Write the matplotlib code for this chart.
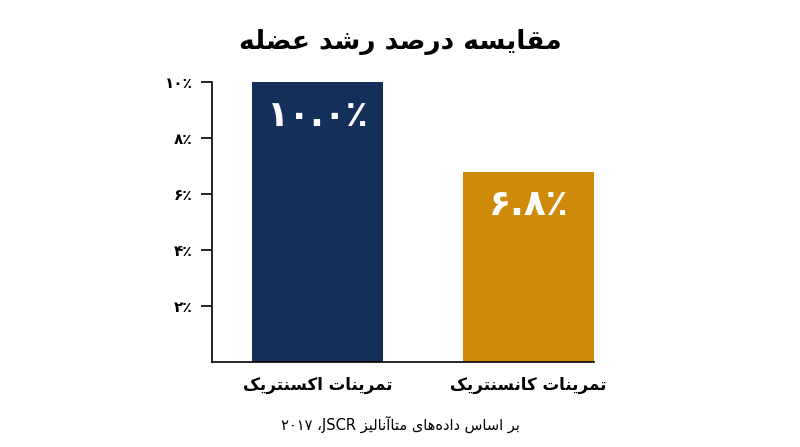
import matplotlib
matplotlib.use("Agg")
import matplotlib.pyplot as plt
import re

title = "مقایسه درصد رشد عضله"
categories = ["تمرینات اکسنتریک", "تمرینات کانسنتریک"]
values = [10.0, 6.8]
value_labels = ["۱۰.۰٪", "۶.۸٪"]
yticks = [2, 4, 6, 8, 10]
ytick_labels = ["۲٪", "۴٪", "۶٪", "۸٪", "۱۰٪"]
footer = "بر اساس داده‌های متاآنالیز JSCR، ۲۰۱۷"
colors = ["#14305a", "#d08a0a"]

FORMS = {
    '\u0627': (0xFE8D, 0xFE8E, None, None), '\u0622': (0xFE81, 0xFE82, None, None),
    '\u062F': (0xFEA9, 0xFEAA, None, None), '\u0631': (0xFEAD, 0xFEAE, None, None),
    '\u0632': (0xFEAF, 0xFEB0, None, None),
    '\u0628': (0xFE8F, 0xFE90, 0xFE91, 0xFE92), '\u062A': (0xFE95, 0xFE96, 0xFE97, 0xFE98),
    '\u0633': (0xFEB1, 0xFEB2, 0xFEB3, 0xFEB4), '\u0634': (0xFEB5, 0xFEB6, 0xFEB7, 0xFEB8),
    '\u0635': (0xFEB9, 0xFEBA, 0xFEBB, 0xFEBC), '\u0636': (0xFEBD, 0xFEBE, 0xFEBF, 0xFEC0),
    '\u0639': (0xFEC9, 0xFECA, 0xFECB, 0xFECC), '\u0642': (0xFED5, 0xFED6, 0xFED7, 0xFED8),
    '\u0644': (0xFEDD, 0xFEDE, 0xFEDF, 0xFEE0), '\u0645': (0xFEE1, 0xFEE2, 0xFEE3, 0xFEE4),
    '\u0646': (0xFEE5, 0xFEE6, 0xFEE7, 0xFEE8), '\u0647': (0xFEE9, 0xFEEA, 0xFEEB, 0xFEEC),
    '\u06A9': (0xFB8E, 0xFB8F, 0xFB90, 0xFB91), '\u06CC': (0xFBFC, 0xFBFD, 0xFBFE, 0xFBFF),
}

def dual(c):
    return c in FORMS and FORMS[c][2] is not None

def shape(s):
    out = []
    for i, c in enumerate(s):
        if c not in FORMS:
            if c != '\u200c':
                out.append(c)
            continue
        prev = s[i - 1] if i > 0 else ''
        nxt = s[i + 1] if i + 1 < len(s) else ''
        jp = dual(prev)
        jn = dual(c) and nxt in FORMS
        iso, fin, ini, med = FORMS[c]
        if jp and jn:
            cp = med
        elif jp:
            cp = fin
        elif jn:
            cp = ini
        else:
            cp = iso
        out.append(chr(cp))
    return ''.join(out)

def rtl(s):
    shaped = shape(s)
    tokens = re.findall(r'[A-Za-z0-9\u06F0-\u06F9]+|.', shaped)
    return ''.join(reversed(tokens))

plt.rcParams['font.family'] = ['DejaVu Sans']
fig = plt.figure(figsize=(8, 4.47), dpi=100)
ax = fig.add_axes([0.265, 0.19, 0.4775, 0.6266])
x = list(range(len(values)))
bars = ax.bar(x, values, width=0.62, color=colors)
ax.set_xlim(-0.5, 1.31)
ax.set_ylim(0, 10)
ax.set_yticks(yticks)
ax.set_yticklabels(ytick_labels, fontsize=11, fontweight='bold')
ax.set_xticks(x)
ax.set_xticklabels([rtl(c) for c in categories], fontsize=12, fontweight='bold')
ax.tick_params(axis='x', length=0, pad=10)
ax.tick_params(axis='y', length=8, width=1.2, pad=6)
for s in ['top', 'right']:
    ax.spines[s].set_visible(False)
for s in ['left', 'bottom']:
    ax.spines[s].set_linewidth(1.2)
for b, lab in zip(bars, value_labels):
    ax.text(b.get_x() + b.get_width() / 2, b.get_height() - 1.2, lab,
            ha='center', va='center', color='white', fontsize=26, fontweight='bold')
fig.text(0.5, 0.905, rtl(title), ha='center', va='center', fontsize=19, fontweight='bold')
fig.text(0.5, 0.05, rtl(footer), ha='center', va='center', fontsize=10.5)
fig.savefig('out.png', dpi=100, facecolor='white')
